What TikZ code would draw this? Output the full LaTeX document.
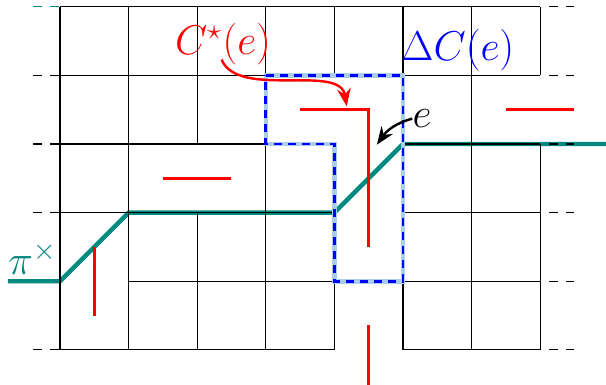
\documentclass[tikz,border=0pt]{standalone}
\usetikzlibrary{arrows.meta}
\definecolor{pathteal}{RGB}{0,137,128}
\definecolor{cutbg}{RGB}{170,205,235}
\tikzset{gridline/.style={black,line width=0.5pt},stub/.style={gridline,dash pattern=on 0.13cm off 0.12cm},cutline/.style={blue,line width=1.1pt,dash pattern=on 3.3pt off 2.5pt},cutshade/.style={cutbg,line width=1.9pt},dual/.style={red,line width=1.2pt},walk/.style={pathteal,line width=1.8pt},lbl/.style={inner sep=0pt,font=\LARGE},line/.style={-{Stealth[length=2.6mm,width=2mm]},line width=1pt}}

\begin{document}
\begin{tikzpicture}
\useasboundingbox (-0.875,-0.51) rectangle (7.96,5.10);
\draw[walk] (-0.76,1) -- (0,1) -- (1,2) -- (4,2) -- (5,3) -- (7.96,3);
\draw[gridline] (0,5) -- (7,5) (0,4) -- (3,4) (5,4) -- (7,4) (0,3) -- (3,3) (5,3) -- (7,3) (0,2) -- (4,2) (5,2) -- (7,2) (1,1) -- (4,1) (5,1) -- (7,1) (0,0) -- (4,0) (5,0) -- (7,0);
\draw[gridline] (0,0) -- (0,5) (1,0) -- (1,5) (2,0) -- (2,2) (2,3) -- (2,5) (3,0) -- (3,3) (3,4) -- (3,5) (4,0) -- (4,1) (4,4) -- (4,5) (5,0) -- (5,1) (5,4) -- (5,5) (6,0) -- (6,5) (7,0) -- (7,3) (7,4) -- (7,5);
\draw[stub,pathteal] (-0.39,5) -- (0,5);
\draw[stub] (-0.39,4) -- (0,4) (-0.39,3) -- (0,3) (-0.39,2) -- (0,2) (-0.39,0) -- (0,0);
\draw[stub] (7.13,5) -- (7.5,5) (7.13,4) -- (7.5,4) (7.13,3) -- (7.5,3) (7.13,2) -- (7.5,2) (7.13,1) -- (7.5,1) (7.13,0) -- (7.5,0);
\draw[cutshade] (3,4) -- (5,4) -- (5,1) -- (4,1) -- (4,3) -- (3,3) -- cycle;
\draw[cutline] (3,4) -- (5,4) -- (5,1) -- (4,1) -- (4,3) -- (3,3) -- cycle;
\draw[dual] (0.5,1.5) -- (0.5,0.5);
\draw[dual] (1.5,2.5) -- (2.5,2.5);
\draw[dual] (3.5,3.5) -- (4.5,3.5) -- (4.5,1.5);
\draw[dual] (6.5,3.5) -- (7.5,3.5);
\draw[dual] (4.5,0.36) -- (4.5,-0.51);
\node[lbl,text=red] (cstar) at (2.376,4.46) {$C^\star(e)$};
\node[lbl,text=blue] (dc) at (5.80,4.37) {$\Delta C(e)$};
\node[lbl] (elbl) at (5.28,3.37) {$e$};
\node[lbl,text=pathteal] (pix) at (-0.40,1.33) {$\pi^\times$};
\coordinate (hit) at (4.18,3.55);
\coordinate (etip) at (4.62,2.99);
\draw[line,red] ([shift={(-0.02,0.08)}]cstar.south) .. controls (2.6,3.65) and (4.08,4.18) .. (hit);
\draw[line] (elbl.west) to[out=195,in=55] (etip);
\end{tikzpicture}
\end{document}
